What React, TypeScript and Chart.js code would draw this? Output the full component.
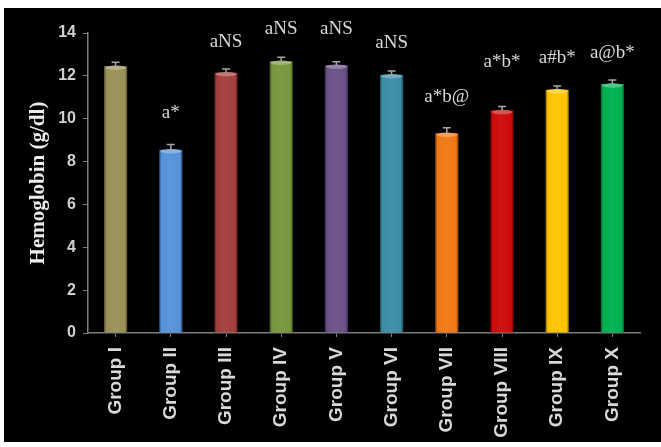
import React, { useEffect, useRef } from 'react';
import { Chart, registerables } from 'chart.js';

Chart.register(...registerables);

const categories = ['Group I', 'Group II', 'Group III', 'Group IV', 'Group V', 'Group VI', 'Group VII', 'Group VIII', 'Group IX', 'Group X'];
const hemoglobin = [12.45, 8.55, 12.15, 12.68, 12.5, 12.05, 9.32, 10.38, 11.35, 11.62];
const errors = [0.18, 0.25, 0.17, 0.19, 0.16, 0.18, 0.26, 0.19, 0.18, 0.19];
const significance = ['', 'a*', 'aNS', 'aNS', 'aNS', 'aNS', 'a*b@', 'a*b*', 'a#b*', 'a@b*'];
const labelLevels = [0, 10.25, 13.57, 14.17, 14.17, 13.52, 11.0, 12.63, 12.82, 13.06];
const barColors = ['#9a9058', '#5592d8', '#a33e3c', '#77963c', '#6b5088', '#3a8ca5', '#f07814', '#cc0a0a', '#ffc400', '#00b050'];
const yMin = 0;
const yMax = 14;
const yStep = 2;

const BAR_FRACTION = 0.42;

function shade(hex: string, f: number): string {
  const n = parseInt(hex.slice(1), 16);
  let r = (n >> 16) & 255, g = (n >> 8) & 255, b = n & 255;
  if (f < 0) {
    r = Math.round(r * (1 + f)); g = Math.round(g * (1 + f)); b = Math.round(b * (1 + f));
  } else {
    r = Math.round(r + (255 - r) * f); g = Math.round(g + (255 - g) * f); b = Math.round(b + (255 - b) * f);
  }
  return `rgb(${r},${g},${b})`;
}

const overlayPlugin = {
  id: 'overlay',
  afterDatasetsDraw(chart: any) {
    const ctx = chart.ctx;
    const meta = chart.getDatasetMeta(0);
    const ys = chart.scales.y;
    ctx.save();
    meta.data.forEach((el: any, i: number) => {
      const color = barColors[i];
      // top highlight cap
      ctx.fillStyle = shade(color, 0.3);
      ctx.beginPath();
      ctx.ellipse(el.x, el.y + 1.5, el.width / 2 - 1, 2.2, 0, 0, Math.PI * 2);
      ctx.fill();
      // error bar
      const top = ys.getPixelForValue(hemoglobin[i] + errors[i]);
      ctx.strokeStyle = '#a6a6a6';
      ctx.lineWidth = 1.5;
      ctx.beginPath();
      ctx.moveTo(el.x, el.y);
      ctx.lineTo(el.x, top);
      ctx.moveTo(el.x - 4, top);
      ctx.lineTo(el.x + 4, top);
      ctx.stroke();
      // significance label
      if (significance[i]) {
        ctx.fillStyle = '#d9d9d9';
        ctx.font = '19px "Liberation Serif", "Times New Roman", serif';
        ctx.textAlign = 'center';
        ctx.textBaseline = 'middle';
        ctx.fillText(significance[i], el.x, ys.getPixelForValue(labelLevels[i]));
      }
    });
    ctx.restore();
  },
};

export default function App() {
  const canvasRef = useRef<HTMLCanvasElement | null>(null);

  useEffect(() => {
    if (!canvasRef.current) return;
    const chart = new Chart(canvasRef.current, {
      type: 'bar',
      data: {
        labels: categories,
        datasets: [
          {
            data: hemoglobin,
            categoryPercentage: 1,
            barPercentage: BAR_FRACTION,
            borderWidth: 0,
            backgroundColor: (c: any) => {
              const i = c.dataIndex;
              const base = barColors[i] || '#888';
              const xs = c.chart.scales && c.chart.scales.x;
              if (!xs || i == null) return base;
              const cx = xs.getPixelForValue(i);
              const w = (xs.width / categories.length) * BAR_FRACTION;
              if (!isFinite(cx) || !isFinite(w) || w <= 0) return base;
              const g = c.chart.ctx.createLinearGradient(cx - w / 2, 0, cx + w / 2, 0);
              g.addColorStop(0, shade(base, -0.45));
              g.addColorStop(0.1, base);
              g.addColorStop(0.45, shade(base, 0.04));
              g.addColorStop(0.9, base);
              g.addColorStop(1, shade(base, -0.45));
              return g;
            },
          },
        ],
      },
      options: {
        responsive: false,
        animation: false,
        events: [],
        layout: { padding: { left: 0, right: 21, top: 25, bottom: 0 } },
        plugins: { legend: { display: false }, tooltip: { enabled: false } },
        scales: {
          x: {
            offset: true,
            grid: { offset: false, drawOnChartArea: false, drawTicks: true, tickLength: 4, color: '#7f7f7f' },
            border: { display: true, color: '#7f7f7f', width: 1.5 },
            ticks: {
              autoSkip: false,
              minRotation: 90,
              maxRotation: 90,
              padding: 10,
              color: '#d9d9d9',
              font: { family: '"Liberation Sans", Arial, sans-serif', size: 19, weight: 'bold' },
            },
            afterFit: (s: any) => { s.height = 109; },
          },
          y: {
            min: yMin,
            max: yMax,
            grid: { drawOnChartArea: false, drawTicks: true, tickLength: 5, color: '#7f7f7f' },
            border: { display: true, color: '#7f7f7f', width: 1.5 },
            ticks: {
              stepSize: yStep,
              padding: 7,
              color: '#d0d0d0',
              font: { family: '"Liberation Sans", Arial, sans-serif', size: 16, weight: 'bold' },
            },
            title: {
              display: true,
              text: 'Hemoglobin (g/dl)',
              color: '#ececec',
              padding: { top: 22, bottom: 0 },
              font: { family: '"Liberation Serif", "Times New Roman", serif', size: 21, weight: 'bold' },
            },
            afterFit: (s: any) => { s.width = 84; },
          },
        },
      },
      plugins: [overlayPlugin],
    });
    return () => chart.destroy();
  }, []);

  return (
    <div style={{ position: 'absolute', left: 4, top: 8, width: 657, height: 434, background: '#000' }}>
      <canvas ref={canvasRef} width={657} height={434} style={{ display: 'block' }} />
    </div>
  );
}
